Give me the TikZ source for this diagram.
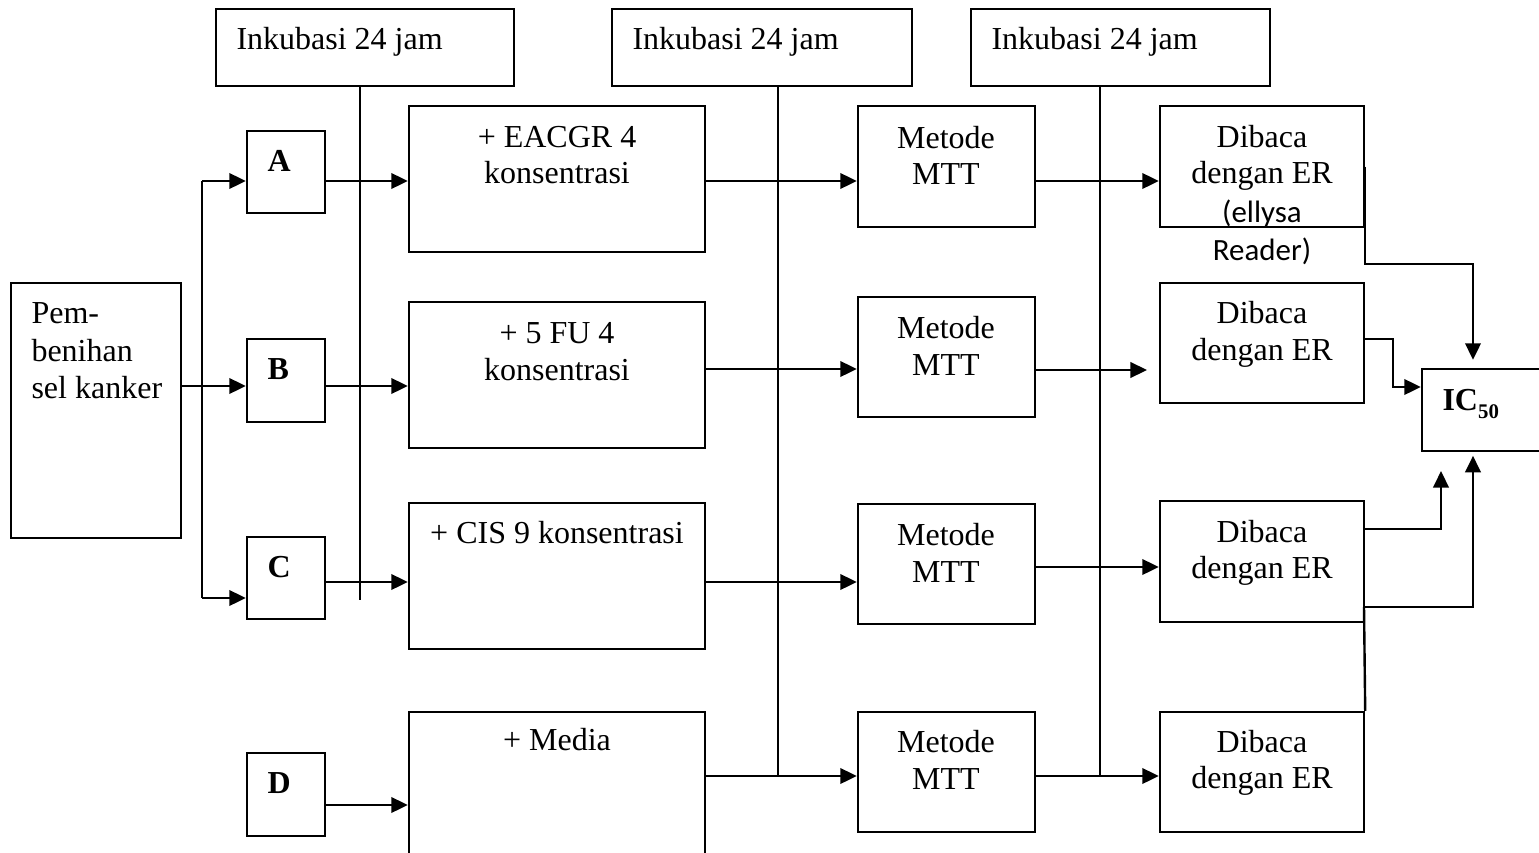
\documentclass[tikz,border=0pt]{standalone}
\usepackage{fontspec}
\setmainfont{Liberation Serif}
\newfontfamily\calfont{Carlito}
\usetikzlibrary{arrows.meta,fit}
\begin{document}
\begin{tikzpicture}[x=0.375pt,y=-0.375pt,
  box/.style={draw,line width=0.9pt,inner sep=0pt,rectangle},
  txt/.style={inner sep=0pt,font=\fontsize{12pt}{13.8pt}\selectfont},
  ctxt/.style={txt,anchor=base},
  ltxt/.style={txt,anchor=base west},
  btxt/.style={ltxt,font=\fontsize{12pt}{13.8pt}\selectfont\bfseries},
  ln/.style={line width=0.9pt},
  arr/.style={line width=0.9pt,-{Triangle[length=6.2pt,width=5.8pt]}}]
\useasboundingbox (0,0) rectangle (1539,853);

% boxes
\node[box,fit={(216,9)(514,86)}] (ink1) {};
\node[box,fit={(612,9)(912,86)}] (ink2) {};
\node[box,fit={(971,9)(1270,86)}] (ink3) {};
\node[box,fit={(11,283)(181,538)}] (pb) {};
\node[box,fit={(247,131)(325,213)}] (A) {};
\node[box,fit={(247,339)(325,422)}] (B) {};
\node[box,fit={(247,537)(325,619)}] (C) {};
\node[box,fit={(247,753)(325,836)}] (D) {};
\node[box,fit={(409,106)(705,252)}] (eac) {};
\node[box,fit={(409,302)(705,448)}] (fu) {};
\node[box,fit={(409,503)(705,649)}] (cis) {};
\node[box,fit={(409,712)(705,880)}] (med) {};
\node[box,fit={(858,106)(1035,227)}] (m1) {};
\node[box,fit={(858,297)(1035,417)}] (m2) {};
\node[box,fit={(858,504)(1035,624)}] (m3) {};
\node[box,fit={(858,712)(1035,832)}] (m4) {};
\node[box,fit={(1160,106)(1364,227)}] (d1) {};
\node[box,fit={(1160,283)(1364,403)}] (d2) {};
\node[box,fit={(1160,501)(1364,622)}] (d3) {};
\node[box,fit={(1160,712)(1364,832)}] (d4) {};
\node[box,fit={(1422,369)(1580,451)}] (ic) {};

% texts
\node[ltxt] (t1) at (236,49) {Inkubasi 24 jam};
\node[ltxt] (t2) at (632,49) {Inkubasi 24 jam};
\node[ltxt] (t3) at (991,49) {Inkubasi 24 jam};
\node[ltxt] (tp1) at (31,323) {Pem-};
\node[ltxt] (tp2) at (31,361) {benihan};
\node[ltxt] (tp3) at (31,398) {sel kanker};
\node[btxt] (tA) at (267,171) {A};
\node[btxt] (tB) at (267,379) {B};
\node[btxt] (tC) at (267,577) {C};
\node[btxt] (tD) at (267,793) {D};
\node[ctxt] (te1) at (557,147) {+ EACGR 4};
\node[ctxt] (te2) at (557,183) {konsentrasi};
\node[ctxt] (tf1) at (557,343) {+ 5 FU 4};
\node[ctxt] (tf2) at (557,380) {konsentrasi};
\node[ctxt] (tc1) at (557,543) {+ CIS 9 konsentrasi};
\node[ctxt] (tm0) at (557,750) {+ Media};
\foreach \n/\ya/\yb in {a/148/184,b/338/375,c/545/582,d/752/789}{
  \node[ctxt] (tm\n1) at (946,\ya) {Metode};
  \node[ctxt] (tm\n2) at (946,\yb) {MTT};
}
\foreach \n/\ya/\yb in {a/147/183,b/323/360,c/542/578,d/752/788}{
  \node[ctxt] (td\n1) at (1262,\ya) {Dibaca};
  \node[ctxt] (td\n2) at (1262,\yb) {dengan ER};
}
\node[ctxt,font=\calfont\fontsize{11.6pt}{13pt}\selectfont] (tel1) at (1262,222) {(ellysa};
\node[ctxt,font=\calfont\fontsize{11.6pt}{13pt}\selectfont] (tel2) at (1262,260) {Reader)};
\node[btxt] (tic) at (1442,410) {IC\raisebox{-3pt}{\fontsize{7.8pt}{8pt}\selectfont\bfseries 50}};

% coordinates
\coordinate (jA) at (202,181);
\coordinate (jC) at (202,598);
\coordinate (rB) at (0,386);
\coordinate (rC) at (0,582);
\coordinate (rD) at (0,805);
\coordinate (v1) at (360,600);
\coordinate (v2) at (778,776);
\coordinate (v3) at (1100,776);
\coordinate (e2) at (1147,370);
\coordinate (k1) at (1473,264);
\coordinate (k2) at (1393,387);
\coordinate (k3) at (1441,529);
\coordinate (k4) at (1364,607);
\coordinate (k5) at (1473,451);
\coordinate (k6) at (1441,471);

% incubation lines
\draw[ln] (ink1.south -| v1) -- (v1);
\draw[ln] (ink2.south -| v2) -- (v2);
\draw[ln] (ink3.south -| v3) -- (v3);

% left part
\draw[arr] (pb.east |- rB) -- (B.west |- rB);
\draw[ln] (jA) -- (jC);
\draw[arr] (jA) -- (A.west |- jA);
\draw[arr] (jC) -- (C.west |- jC);
\draw[arr] (A.east |- jA) -- (eac.west |- jA);
\draw[arr] (B.east |- rB) -- (fu.west |- rB);
\draw[arr] (C.east |- rC) -- (cis.west |- rC);
\draw[arr] (D.east |- rD) -- (med.west |- rD);

% middle
\draw[arr] (eac.east |- jA) -- (m1.west |- jA);
\draw[arr] (fu.east |- 0,369) -- (m2.west |- 0,369);
\draw[arr] (cis.east |- rC) -- (m3.west |- rC);
\draw[arr] (med.east |- v2) -- (m4.west |- v2);

% right
\draw[arr] (m1.east |- jA) -- (d1.west |- jA);
\draw[arr] (m2.east |- e2) -- (e2);
\draw[arr] (m3.east |- 0,567) -- (d3.west |- 0,567);
\draw[arr] (m4.east |- v2) -- (d4.west |- v2);

% to IC50
\draw[arr,shorten >=3pt] (d1.east) |- (k1) -- (k1 |- ic.north);
\draw[arr] (d2.east |- 0,339) -| (k2) -- (ic.west |- k2);
\draw[arr] (d3.east |- k3) -| (k6);
\draw[arr,shorten >=1.8pt] (k4) -| (k5);
\draw[ln] (k4) -- (d4.north east);
\end{tikzpicture}
\end{document}
